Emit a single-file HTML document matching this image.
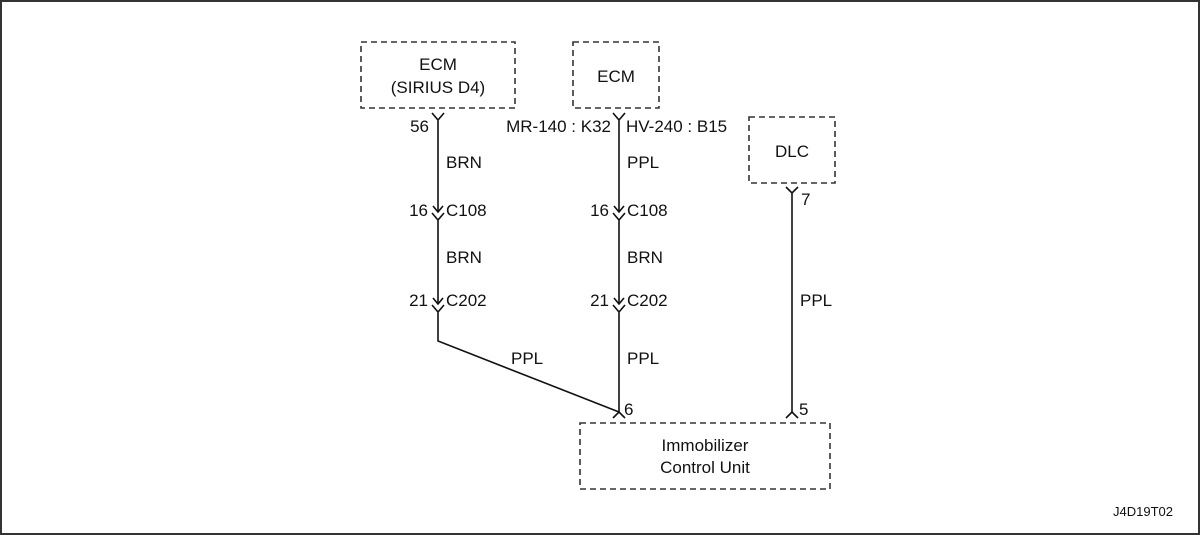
<!DOCTYPE html>
<html><head><meta charset="utf-8"><style>
html,body{margin:0;padding:0;background:#fff}
svg{display:block}
text{font-family:"Liberation Sans",Arial,sans-serif;font-size:17px;fill:#111}
</style></head><body>
<svg width="1200" height="535" viewBox="0 0 1200 535" xmlns="http://www.w3.org/2000/svg">
<rect x="1" y="1" width="1198" height="533" fill="#fff" stroke="#333" stroke-width="2"/>
<g fill="none" stroke="#333" stroke-width="1.6" stroke-dasharray="6,4">
<rect x="361" y="42" width="154" height="66"/>
<rect x="573" y="42" width="86" height="66"/>
<rect x="749" y="117" width="86" height="66"/>
<rect x="580" y="423" width="250" height="66"/>
</g>
<g fill="none" stroke="#111" stroke-width="1.6">
<path d="M432,113 L438,120 L444,113 M438,120 V212"/>
<path d="M433,206 L438,212 L443,206"/>
<path d="M432,213 L438,220 L444,213 M438,220 V304"/>
<path d="M433,298 L438,304 L443,298"/>
<path d="M432,305 L438,312 L444,305 M438,312 V341 L619,412"/>
<path d="M613,113 L619,120 L625,113 M619,120 V212"/>
<path d="M614,206 L619,212 L624,206"/>
<path d="M613,213 L619,220 L625,213 M619,220 V304"/>
<path d="M614,298 L619,304 L624,298"/>
<path d="M613,305 L619,312 L625,305 M619,312 V412"/>
<path d="M613,418 L619,412 L625,418"/>
<path d="M786,187 L792,193 L798,187 M792,193 V412"/>
<path d="M786,418 L792,412 L798,418"/>
</g>
<g text-anchor="middle">
<text x="438" y="70">ECM</text>
<text x="438" y="93">(SIRIUS D4)</text>
<text x="616" y="82">ECM</text>
<text x="792" y="157">DLC</text>
<text x="705" y="451">Immobilizer</text>
<text x="705" y="473">Control Unit</text>
</g>
<g text-anchor="end">
<text x="429" y="132">56</text>
<text x="428" y="216">16</text>
<text x="428" y="306">21</text>
<text x="611" y="132">MR-140 : K32</text>
<text x="609" y="216">16</text>
<text x="609" y="306">21</text>
</g>
<text x="446" y="168">BRN</text>
<text x="446" y="216">C108</text>
<text x="446" y="263">BRN</text>
<text x="446" y="306">C202</text>
<text x="511" y="364">PPL</text>
<text x="626" y="132">HV-240 : B15</text>
<text x="627" y="168">PPL</text>
<text x="627" y="216">C108</text>
<text x="627" y="263">BRN</text>
<text x="627" y="306">C202</text>
<text x="627" y="364">PPL</text>
<text x="624" y="415">6</text>
<text x="801" y="205">7</text>
<text x="800" y="306">PPL</text>
<text x="799" y="415">5</text>
<text x="1113" y="516" style="font-size:13px">J4D19T02</text>
</svg>
</body></html>
